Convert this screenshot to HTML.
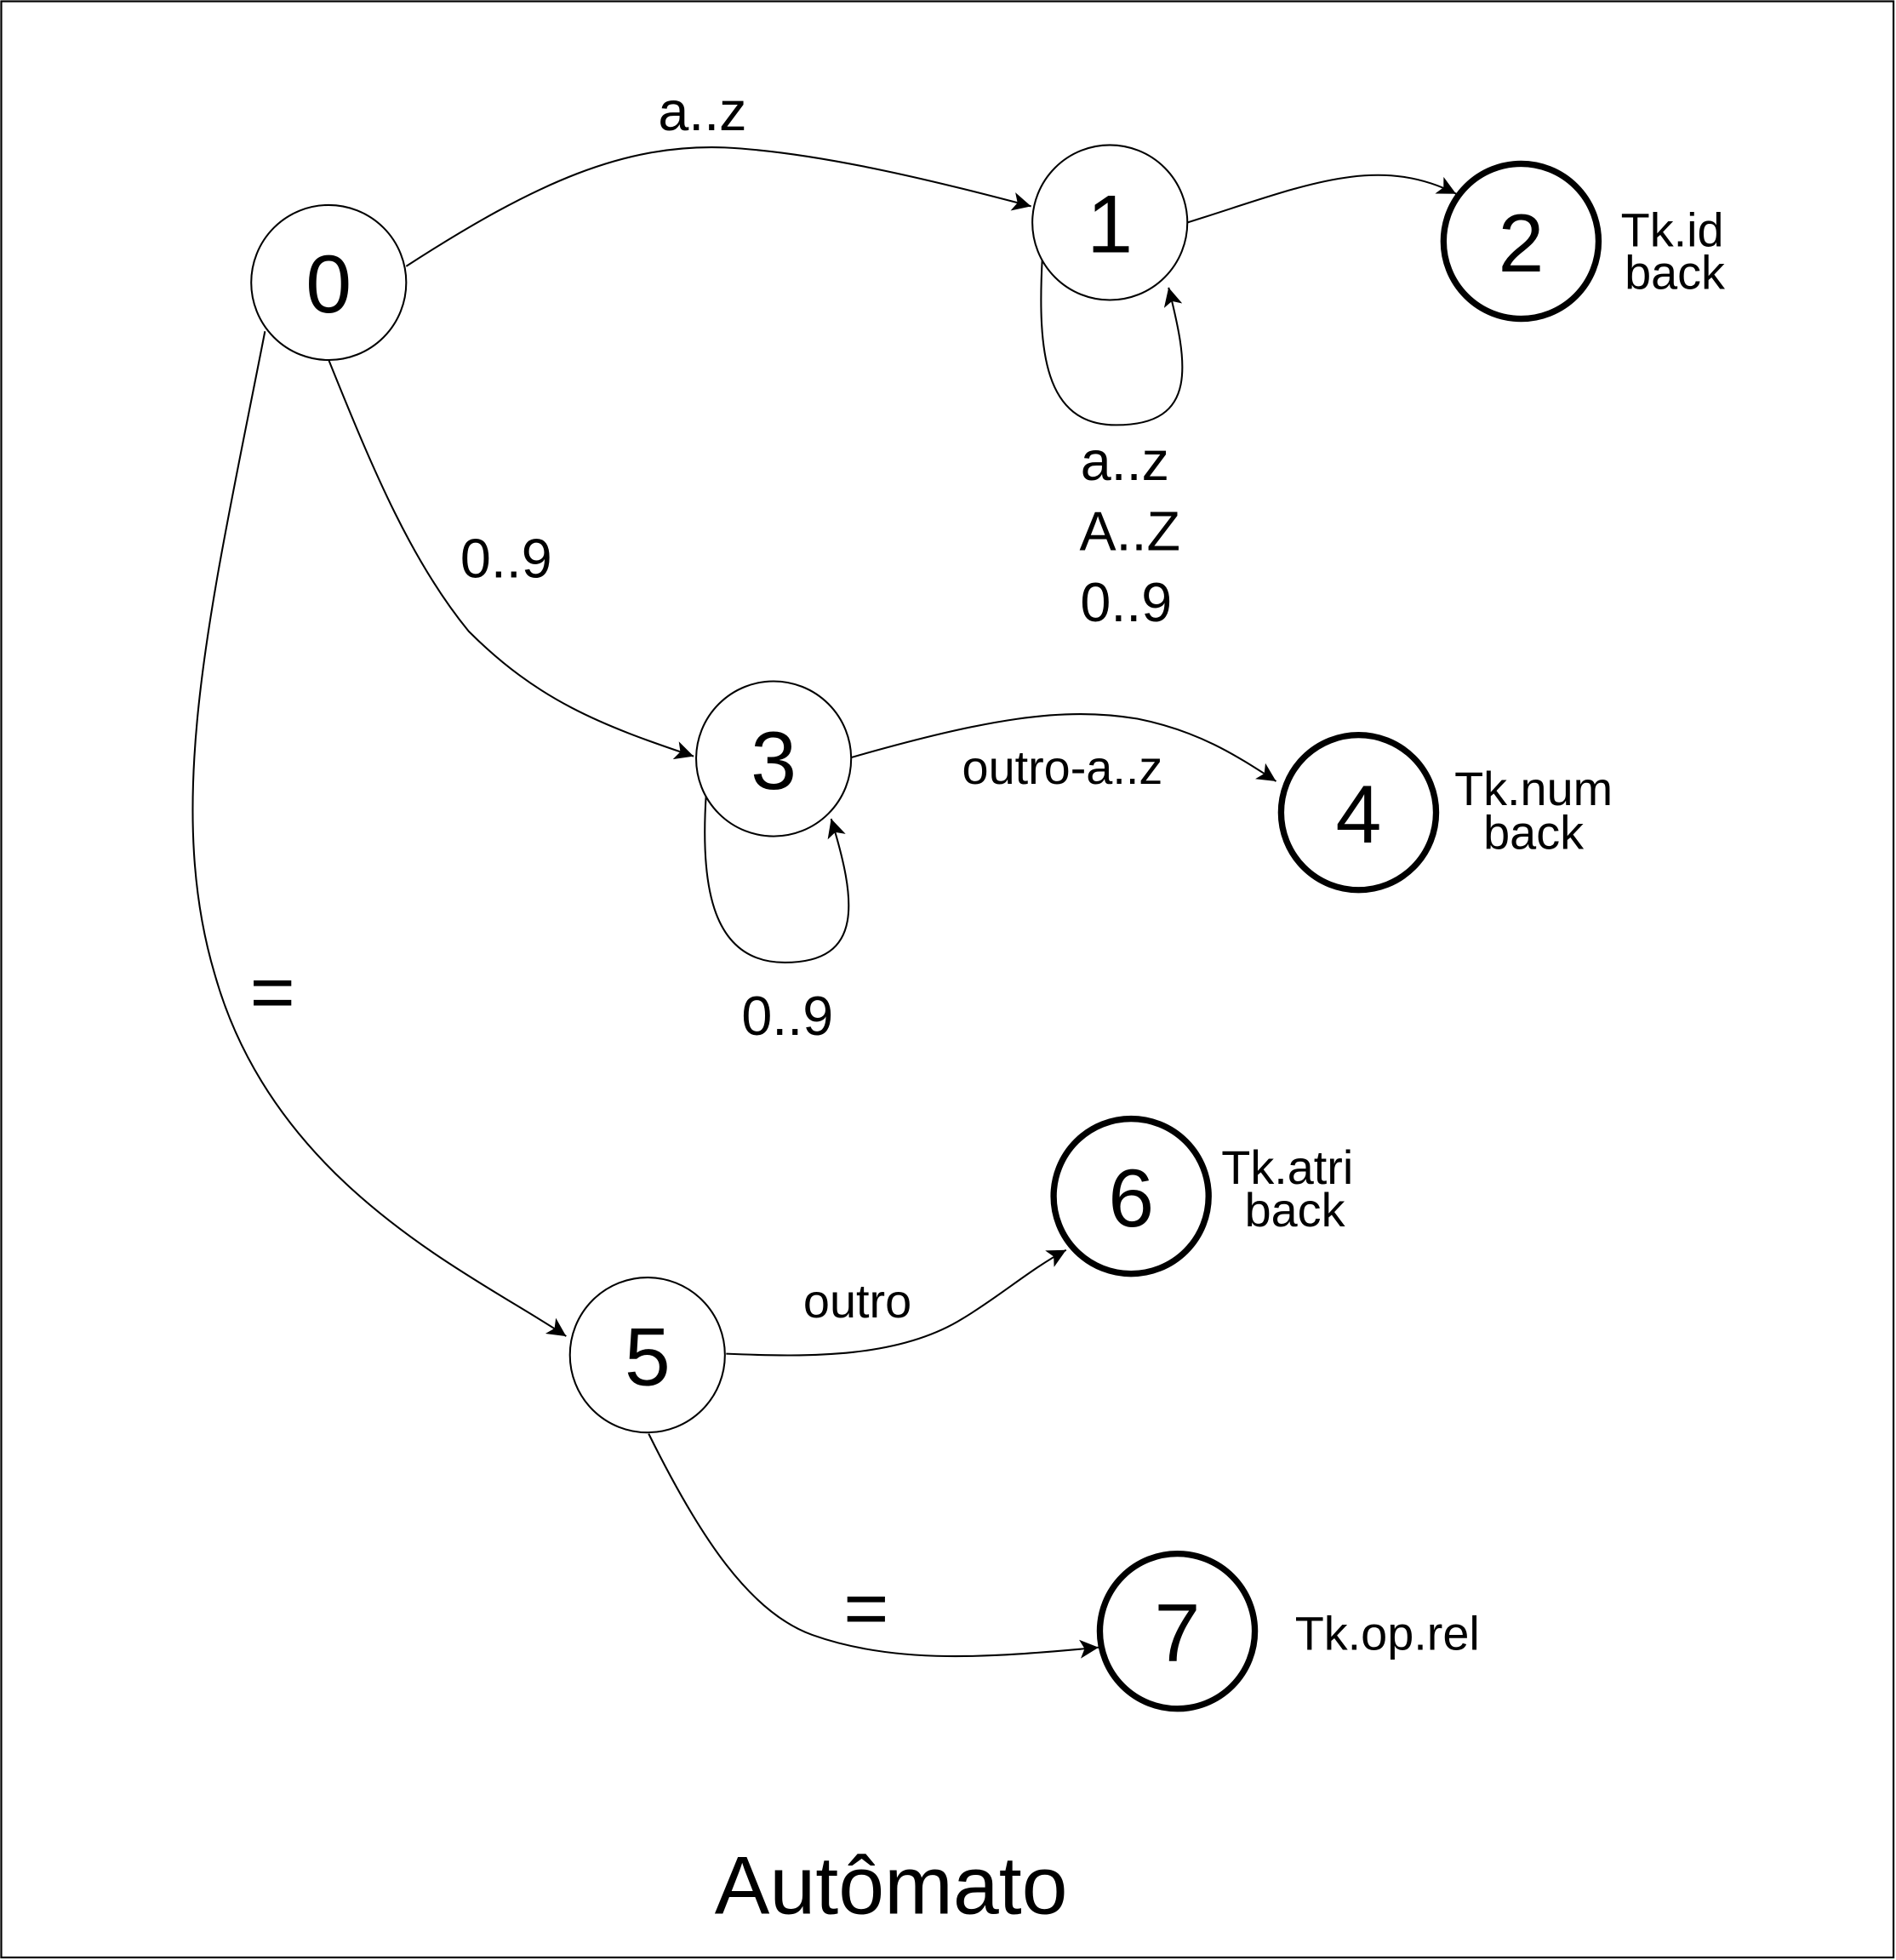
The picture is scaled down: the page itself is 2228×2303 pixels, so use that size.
<!DOCTYPE html>
<html><head><meta charset="utf-8"><style>
html,body{margin:0;padding:0;background:#fff;}
svg{display:block;}
text{font-family:"Liberation Sans",sans-serif;fill:#000;}
</style></head><body>
<svg width="2228" height="2303" viewBox="0 0 1517 1568" xmlns="http://www.w3.org/2000/svg">
<defs>
<marker id="a" viewBox="0 0 10 10" refX="10" refY="5" markerWidth="17" markerHeight="15" markerUnits="userSpaceOnUse" orient="auto">
<path d="M0,0 L10,5 L0,10 L2.5,5 z" fill="#000"/></marker>
</defs>
<rect x="1" y="1" width="1514" height="1565" fill="#fff" stroke="#000" stroke-width="1.5"/>
<g fill="none" stroke="#000" stroke-width="1.4">
<path d="M325,213 C430,145 500,115 580,118 C660,122 760,148 825,165" marker-end="url(#a)"/>
<path d="M950,178 C1040,150 1100,122 1165,155" marker-end="url(#a)"/>
<path d="M834,205 C830,280 835,340 893,340 C960,340 950,290 935,230" marker-end="url(#a)"/>
<path d="M263,288 C300,380 330,450 375,505 C430,560 480,580 555,605" marker-end="url(#a)"/>
<path d="M681,606 C790,575 850,565 910,575 C960,585 990,605 1021,625" marker-end="url(#a)"/>
<path d="M565,635 C560,710 570,770 628,770 C692,770 685,720 665,655" marker-end="url(#a)"/>
<path d="M212,265 C170,480 130,640 172,780 C220,950 380,1020 453,1069" marker-end="url(#a)"/>
<path d="M581,1083 C650,1086 720,1086 770,1055 C800,1037 825,1015 853,1000" marker-end="url(#a)"/>
<path d="M519,1147 C560,1230 600,1290 650,1308 C720,1333 800,1325 879,1318" marker-end="url(#a)"/>
</g>
<g fill="#fff" stroke="#000" stroke-width="1.4">
<circle cx="263" cy="226" r="62"/>
<circle cx="888" cy="178" r="62"/>
<circle cx="619" cy="607" r="62"/>
<circle cx="518" cy="1084" r="62"/>
</g>
<g fill="#fff" stroke="#000" stroke-width="5">
<circle cx="1217" cy="193" r="62"/>
<circle cx="1087" cy="650" r="62"/>
<circle cx="905" cy="957" r="62"/>
<circle cx="942" cy="1305" r="62"/>
</g>
<g font-size="66" text-anchor="middle">
<text x="263" y="250">0</text>
<text x="888" y="202">1</text>
<text x="1217" y="217">2</text>
<text x="619" y="631">3</text>
<text x="1087" y="674">4</text>
<text x="518" y="1108">5</text>
<text x="905" y="981">6</text>
<text x="942" y="1329">7</text>
</g>
<g font-size="44" text-anchor="middle">
<text x="562" y="104">a..z</text>
<text x="900" y="384">a..z</text>
<text x="904" y="440">A..Z</text>
<text x="901" y="497">0..9</text>
<text x="405" y="462">0..9</text>
<text x="630" y="828">0..9</text>
</g>
<g font-size="62" text-anchor="middle">
<text x="218" y="815">=</text>
<text x="693" y="1308">=</text>
</g>
<g font-size="38" text-anchor="middle">
<text x="850" y="627">outro-a..z</text>
<text x="686" y="1054">outro</text>
<text x="1338" y="197">Tk.id</text>
<text x="1340" y="231">back</text>
<text x="1227" y="644">Tk.num</text>
<text x="1227" y="679">back</text>
<text x="1030" y="947">Tk.atri</text>
<text x="1036" y="981">back</text>
<text x="1110" y="1320">Tk.op.rel</text>
</g>
<text x="713" y="1531" font-size="66" text-anchor="middle">Autômato</text>
</svg>
</body></html>
